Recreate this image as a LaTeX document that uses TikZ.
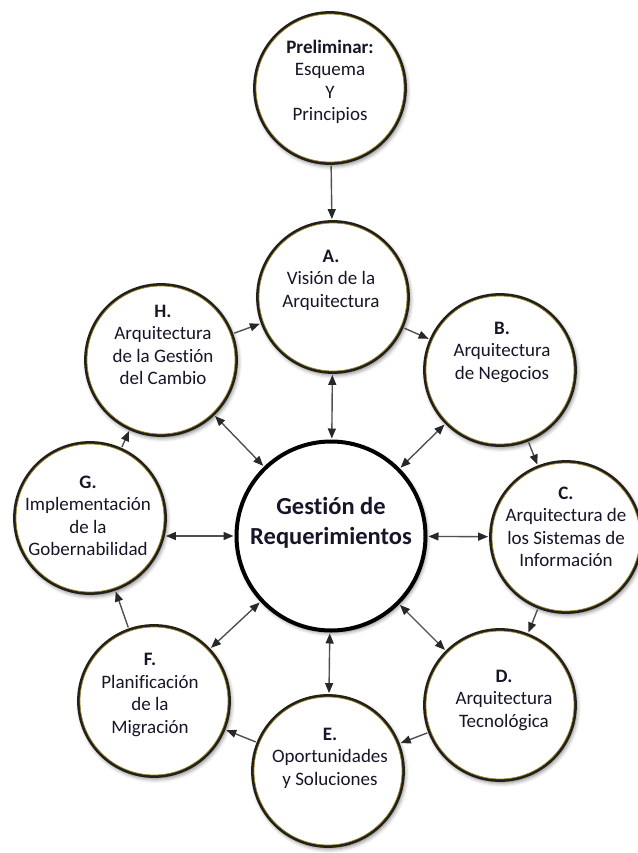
\documentclass[tikz,border=0pt]{standalone}
\usepackage{fontspec}
\setmainfont{Carlito}[Ligatures={NoCommon,NoContextual}]
\usetikzlibrary{arrows.meta,shadows.blur}
\definecolor{ink}{RGB}{22,22,40}
\definecolor{rim}{RGB}{34,32,24}
\definecolor{gild}{RGB}{150,128,40}
\definecolor{wire}{RGB}{80,80,80}
\definecolor{tipc}{RGB}{40,40,40}
\begin{document}
\begin{tikzpicture}[x=1pt,y=-1pt,
  phase/.style={circle, draw=rim, line width=2.8pt, fill=white,
    minimum size=151pt, inner sep=0pt,
    blur shadow={shadow xshift=1.5pt, shadow yshift=-2.5pt,
      shadow blur radius=4pt, shadow opacity=50}},
  hub/.style={phase, draw=black, line width=4pt, minimum size=189pt},
  caption/.style={align=center, text=ink, inner sep=0pt,
    font=\fontsize{19}{22.5}\selectfont},
  hubcaption/.style={align=center, text=ink, inner sep=0pt,
    font=\fontsize{24.5}{29.5}\selectfont\bfseries},
  flow/.style={draw=wire, line width=1.4pt, shorten >=1pt, shorten <=1pt,
    -{Triangle[length=10pt,width=8pt,color=tipc]}},
  both/.style={flow,
    {Triangle[length=10pt,width=8pt,color=tipc]}-{Triangle[length=10pt,width=8pt,color=tipc]}},
]
\useasboundingbox (0,0) rectangle (637,853);

% phase circles
\node[phase] (P) at (330,88) {};
\node[phase] (A) at (333,297) {};
\node[phase] (B) at (500,370) {};
\node[phase] (C) at (566,537) {};
\node[phase] (D) at (500,705) {};
\node[phase] (E) at (328,771) {};
\node[phase] (F) at (154,701) {};
\node[phase] (G) at (90,518) {};
\node[phase] (H) at (161,360) {};
\node[hub] (Z) at (331,536) {};

% thin golden inner rim
\foreach \n in {P,A,B,C,D,E,F,G,H}
  \draw[gild, line width=0.7pt] (\n.center) circle (74pt);

% captions
\node[caption] (tP) at (330,82) {\textbf{Preliminar:}\\Esquema\\Y\\Principios};
\node[caption] (tA) at (331,280) {\textbf{A.}\\Visión de la\\Arquitectura};
\node[caption] (tB) at (502,352) {\textbf{B.}\\Arquitectura\\de Negocios};
\node[caption] (tC) at (566,527) {\textbf{C.}\\Arquitectura de\\los Sistemas de\\Información};
\node[caption] (tD) at (504,700) {\textbf{D.}\\Arquitectura\\Tecnológica};
\node[caption] (tE) at (330,758) {\textbf{E.}\\Oportunidades\\y Soluciones};
\node[caption] (tF) at (150,695) {\textbf{F.}\\Planificación\\de la\\Migración};
\node[caption] (tG) at (88,516) {\textbf{G.}\\Implementación\\de la\\Gobernabilidad};
\node[caption] (tH) at (163,345) {\textbf{H.}\\Arquitectura\\de la Gestión\\del Cambio};
\node[hubcaption] (tZ) at (331,523) {Gestión de\\Requerimientos};

% cycle
\draw[flow] (P) -- (A);
\draw[flow] (A) -- (B);
\draw[flow] (B) -- (C);
\draw[flow] (C) -- (D);
\draw[flow] (D) -- (E);
\draw[flow] (E) -- (F);
\draw[flow] (F) -- (G);
\draw[flow] (G) -- (H);
\draw[flow] (H) -- (A);

% links to the hub
\foreach \n in {A,B,C,D,E,F,H}
  \draw[both] (Z) -- (\n);
\coordinate (gEast) at ([xshift=-2pt]Z.west -| G.east);
\draw[both] (Z.west) -- (gEast);
\end{tikzpicture}
\end{document}
